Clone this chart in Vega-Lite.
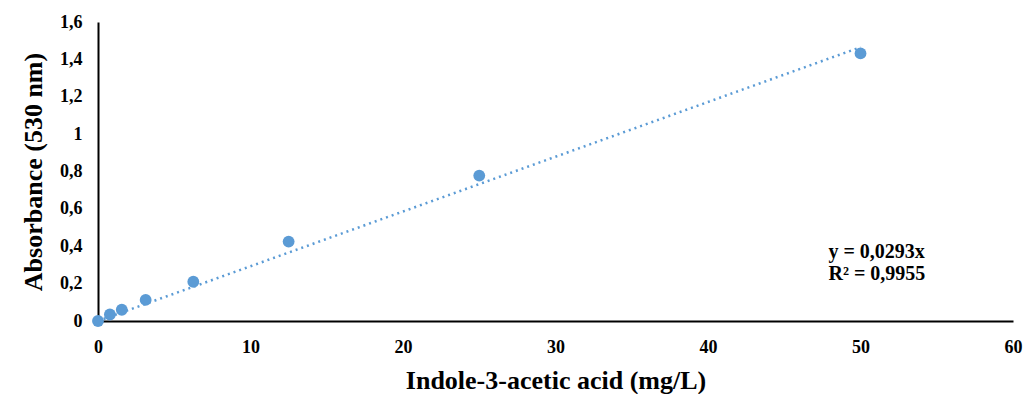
{
  "$schema": "https://vega.github.io/schema/vega-lite/v6.json",
  "width": 915,
  "height": 299,
  "autosize": {"type": "none"},
  "padding": {"left": 98, "top": 22, "right": 12, "bottom": 73},
  "background": "white",
  "config": {
    "view": {"stroke": null},
    "font": "Liberation Serif"
  },
  "datasets": {
    "points": [
      {"conc": 0, "abs": 0},
      {"conc": 0.78, "abs": 0.035},
      {"conc": 1.56, "abs": 0.06},
      {"conc": 3.125, "abs": 0.113},
      {"conc": 6.25, "abs": 0.21},
      {"conc": 12.5, "abs": 0.425},
      {"conc": 25, "abs": 0.778},
      {"conc": 50, "abs": 1.432}
    ],
    "trend": [
      {"conc": 0, "abs": 0},
      {"conc": 50, "abs": 1.465}
    ],
    "labels": [
      {"conc": 47.9, "abs": 0.335, "text": "y = 0,0293x"},
      {"conc": 47.9, "abs": 0.222, "text": "R² = 0,9955"}
    ]
  },
  "encoding": {
    "x": {"field": "conc", "type": "quantitative", "scale": {"domain": [0, 60], "nice": false},
      "axis": {"values": [0, 10, 20, 30, 40, 50, 60], "grid": false, "ticks": false, "domainColor": "black", "domainWidth": 2,
        "labelFont": "Liberation Serif", "labelFontWeight": "bold", "labelFontSize": 18, "labelColor": "black", "labelOverlap": false,
        "labelPadding": 17, "labelFlush": false,
        "title": "Indole-3-acetic acid (mg/L)", "titleFont": "Liberation Serif", "titleFontWeight": "bold", "titleColor": "black", "titleFontSize": 26, "titlePadding": 11}},
    "y": {"field": "abs", "type": "quantitative", "scale": {"domain": [0, 1.6], "nice": false},
      "axis": {"values": [0, 0.2, 0.4, 0.6, 0.8, 1, 1.2, 1.4, 1.6], "grid": false, "ticks": false, "domainColor": "black", "domainWidth": 2,
        "labelFont": "Liberation Serif", "labelFontWeight": "bold", "labelFontSize": 18, "labelColor": "black", "labelOverlap": false,
        "labelPadding": 16, "labelFlush": false, "labelExpr": "replace(format(datum.value, '~g'), '.', ',')",
        "title": "Absorbance (530 nm)", "titleFont": "Liberation Serif", "titleFontWeight": "bold", "titleColor": "black", "titleFontSize": 26, "titlePadding": 13}}
  },
  "layer": [
    {
      "data": {"name": "trend"},
      "mark": {"type": "line", "color": "#5B9BD5", "strokeWidth": 2.5, "strokeDash": [2, 4], "strokeCap": "butt"}
    },
    {
      "data": {"name": "points"},
      "mark": {"type": "circle", "color": "#5B9BD5", "opacity": 1, "size": 140}
    },
    {
      "data": {"name": "labels"},
      "mark": {"type": "text", "align": "left", "baseline": "alphabetic", "font": "Liberation Serif", "fontWeight": "bold", "fontSize": 20, "color": "black"},
      "encoding": {
        "text": {"field": "text"}
      }
    }
  ]
}
